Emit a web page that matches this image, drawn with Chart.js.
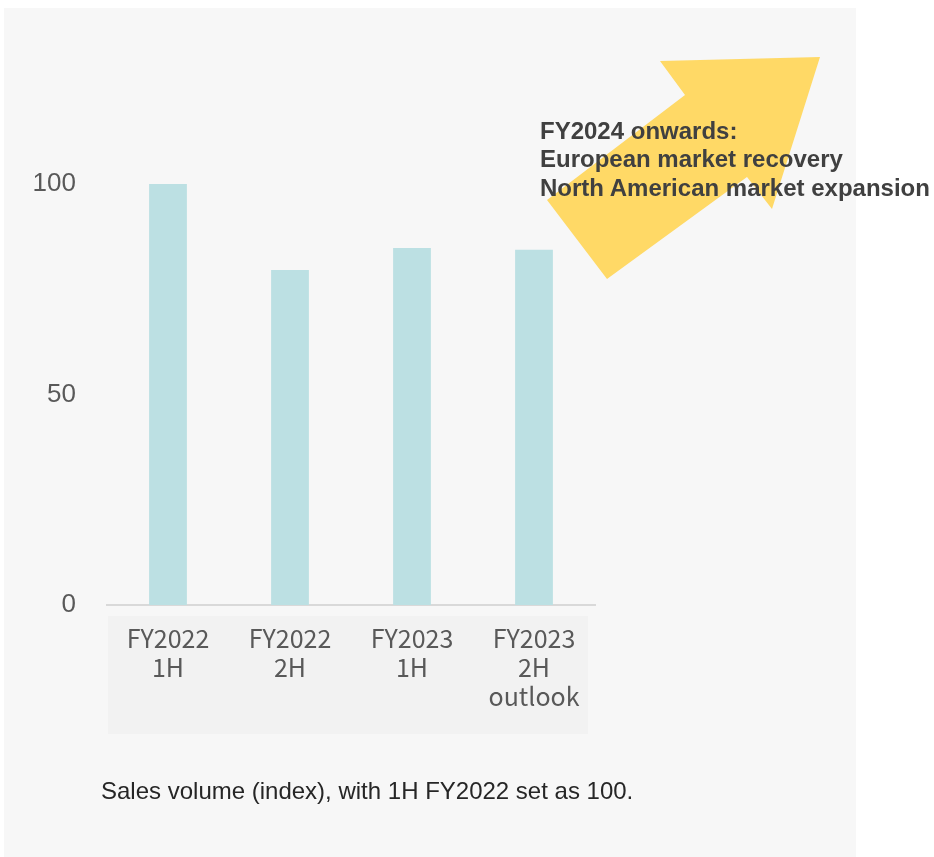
<!DOCTYPE html>
<html>
<head>
<meta charset="utf-8">
<script src="https://cdn.jsdelivr.net/npm/chart.js@4/dist/chart.umd.min.js"></script>
<style>
  body { margin: 0; background: #ffffff; }
  #wrap { position: relative; width: 934px; height: 857px; }
  #note {
    position: absolute; left: 540px; top: 117px;
    font: bold 24px "Liberation Sans", Arial, sans-serif;
    line-height: 28.3px; color: #404040; white-space: nowrap;
  }
  #foot {
    position: absolute; left: 101px; top: 779px;
    font: 24px "Liberation Sans", Arial, sans-serif;
    line-height: 24px; color: #262626; white-space: nowrap;
  }
</style>
</head>
<body>
<div id="wrap">
  <canvas id="myChart" width="934" height="857"></canvas>
  <div id="note">FY2024 onwards:<br>European market recovery<br>North American market expansion</div>
  <div id="foot">Sales volume (index), with 1H FY2022 set as 100.</div>
</div>
<script>
'use strict';
// values
let categories = [['FY2022', '1H'], ['FY2022', '2H'], ['FY2023', '1H'], ['FY2023', '2H', 'outlook']];
let salesIndex = [100, 79.6, 84.8, 84.4];
let yTicks = [0, 50, 100];

// background panel, label band and the big yellow arrow
let backdrop = {
    id: 'backdrop',
    beforeDraw(chart) {
        let ctx = chart.ctx;
        ctx.save();
        ctx.fillStyle = '#f7f7f7';
        ctx.fillRect(4, 8, 852, 849);
        ctx.fillStyle = '#f2f2f2';
        ctx.fillRect(108, 616, 480, 118);
        ctx.fillStyle = '#ffd966';
        ctx.beginPath();
        ctx.moveTo(820, 57);
        ctx.lineTo(660, 61);
        ctx.lineTo(685, 95);
        ctx.lineTo(547, 200);
        ctx.lineTo(607, 279);
        ctx.lineTo(747, 177);
        ctx.lineTo(772, 209);
        ctx.closePath();
        ctx.fill();
        ctx.restore();
    }
};

let ctx = document.getElementById('myChart').getContext('2d');
let myChart = new Chart(ctx, {
    type: 'bar',
    data: {
        labels: categories,
        datasets: [{
            data: salesIndex,
            backgroundColor: '#bce0e3',
            categoryPercentage: 1,
            barPercentage: 0.31
        }]
    },
    options: {
        responsive: false,
        animation: false,
        layout: { padding: { left: 0, top: 184, right: 339, bottom: 0 } },
        plugins: { legend: { display: false }, tooltip: { enabled: false } },
        scales: {
            x: {
                grid: { display: false, drawTicks: false },
                border: { display: true, color: '#d9d9d9', width: 2 },
                ticks: {
                    padding: 19,
                    maxRotation: 0,
                    color: '#595959',
                    font: { family: '"Noto Sans CJK JP", sans-serif', size: 25, lineHeight: 1.16 }
                },
                afterFit(scale) { scale.height = 252; }
            },
            y: {
                min: 0,
                max: 100,
                grid: { display: false, drawTicks: false },
                border: { display: false },
                ticks: {
                    padding: 31,
                    color: '#595959',
                    font: { family: '"Liberation Sans", Arial, sans-serif', size: 26 }
                },
                afterBuildTicks(scale) { scale.ticks = yTicks.map(v => ({ value: v })); },
                afterFit(scale) { scale.width = 107; }
            }
        }
    },
    plugins: [backdrop]
});
</script>
</body>
</html>
